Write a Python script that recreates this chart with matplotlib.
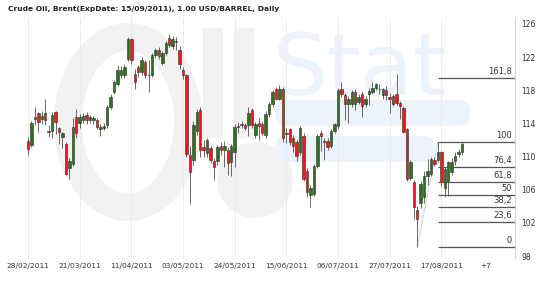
import matplotlib
matplotlib.use("Agg")
import matplotlib.pyplot as plt
from matplotlib.patches import Ellipse, Rectangle, Circle, FancyBboxPatch

# daily candles, 28/02/2011 .. 24/08/2011
opens = [111.9, 111.4, 114.5, 115.2, 114.5, 115.3, 113.1, 113.05, 115.35, 113.4,
         112.4, 111.5, 108.6, 109.1, 114.8, 114.1, 114.4, 115.0, 114.4, 114.4,
         114.4, 113.3, 113.4, 113.8, 116.0, 117.8, 118.8, 119.9, 119.8, 121.8,
         124.2, 120.0, 120.8, 120.2, 121.4, 119.9, 119.9, 122.3, 122.9, 121.3,
         122.5, 124.3, 123.4, 124.0, 122.9, 120.5, 119.8, 110.2, 109.6, 113.1,
         115.6, 111.1, 110.4, 111.0, 109.5, 109.5, 111.3, 110.8, 110.8, 109.4,
         110.6, 113.7, 113.9, 113.8, 113.8, 115.6, 112.6, 114.0, 113.9, 112.6,
         115.1, 116.4, 118.1, 117.0, 118.2, 112.9, 113.3, 112.3, 111.7, 110.5,
         112.5, 108.3, 105.4, 105.5, 108.9, 112.9, 111.9, 111.9, 111.3, 113.1,
         113.7, 118.1, 117.4, 116.4, 116.4, 117.8, 116.6, 117.5, 116.3, 117.6,
         117.8, 118.3, 118.2, 117.4, 118.0, 117.2, 117.3, 117.5, 116.5, 115.9,
         113.3, 107.4, 106.9, 103.5, 104.4, 105.1, 107.7, 107.9, 109.6, 109.6,
         110.5, 106.2, 106.9, 108.1, 109.5, 110.3, 110.5]
highs = [112.4, 114.3, 116.0, 115.4, 115.5, 116.9, 113.8, 115.4, 115.5, 113.6,
         113.0, 111.8, 109.8, 114.7, 115.8, 115.1, 115.2, 115.4, 115.0, 114.9,
         114.6, 113.9, 114.0, 116.2, 117.5, 119.3, 121.1, 120.9, 121.2, 124.4,
         124.3, 120.6, 121.0, 122.0, 121.6, 121.6, 122.5, 123.1, 123.2, 122.8,
         124.0, 124.8, 124.6, 124.4, 123.3, 120.8, 120.0, 111.3, 114.3, 115.8,
         116.0, 112.0, 112.3, 111.3, 109.8, 111.4, 111.7, 111.9, 111.2, 111.5,
         113.9, 114.2, 114.3, 114.0, 116.0, 115.9, 114.2, 114.6, 114.2, 115.5,
         116.6, 118.0, 118.4, 118.6, 118.4, 113.4, 113.5, 112.6, 112.0, 113.7,
         112.8, 108.6, 106.6, 109.1, 112.7, 113.2, 112.3, 112.2, 113.3, 114.1,
         118.3, 119.0, 117.7, 117.3, 118.0, 118.1, 117.5, 117.8, 117.3, 118.3,
         119.0, 118.9, 118.8, 118.3, 118.5, 117.7, 117.6, 120.0, 116.7, 116.1,
         113.5, 109.6, 107.2, 104.0, 107.0, 108.2, 109.7, 110.0, 109.9, 111.7,
         110.7, 108.7, 109.5, 109.8, 110.5, 110.9, 111.7]
lows = [110.2, 111.2, 113.8, 113.0, 113.9, 113.8, 112.4, 112.3, 112.7, 111.5,
        111.0, 107.8, 107.3, 108.9, 112.2, 113.5, 114.0, 113.9, 114.0, 113.9,
        113.3, 112.5, 113.2, 113.5, 115.8, 117.5, 118.5, 119.5, 119.5, 121.5,
        121.2, 118.1, 119.6, 119.9, 119.5, 117.8, 119.6, 121.9, 121.8, 121.0,
        122.3, 123.2, 123.0, 122.9, 120.6, 119.4, 110.0, 104.3, 109.0, 112.6,
        110.0, 109.9, 109.9, 109.2, 107.2, 109.0, 110.2, 108.7, 107.8, 107.7,
        108.8, 112.8, 113.5, 113.2, 112.5, 113.5, 112.2, 112.0, 112.6, 112.3,
        114.8, 116.0, 116.8, 116.8, 111.8, 111.6, 111.4, 110.6, 109.5, 110.2,
        107.0, 105.1, 103.9, 105.2, 108.6, 110.7, 109.6, 110.8, 111.0, 112.8,
        113.3, 117.2, 114.4, 114.1, 116.0, 115.6, 116.3, 114.8, 116.0, 116.2,
        117.5, 118.0, 117.5, 117.0, 116.8, 115.3, 116.1, 116.2, 114.5, 112.8,
        107.0, 107.2, 102.5, 99.1, 103.8, 104.4, 106.6, 107.6, 108.9, 109.3,
        106.5, 105.1, 105.2, 107.8, 109.0, 109.9, 110.2]
closes = [110.9, 114.1, 114.8, 114.2, 114.85, 114.4, 113.0, 115.0, 114.2, 113.0,
          112.9, 107.9, 109.5, 113.6, 112.8, 114.8, 114.9, 114.4, 114.8, 114.7,
          113.6, 113.6, 113.7, 116.0, 117.2, 119.0, 120.4, 120.45, 120.8, 124.2,
          121.6, 119.0, 120.2, 121.7, 119.9, 119.8, 122.3, 122.9, 122.1, 122.5,
          123.7, 123.5, 124.2, 123.8, 121.2, 119.8, 110.3, 108.1, 113.8, 115.4,
          110.8, 110.8, 112.0, 109.6, 108.7, 111.1, 110.8, 111.3, 109.2, 111.3,
          113.6, 113.6, 113.8, 113.4, 115.3, 113.8, 113.9, 113.7, 112.9, 115.1,
          116.3, 117.8, 117.0, 118.2, 112.3, 112.7, 111.8, 111.3, 110.1, 113.5,
          107.3, 105.7, 106.2, 108.9, 112.5, 112.5, 111.8, 111.1, 113.1, 113.9,
          118.0, 117.6, 116.4, 116.9, 117.8, 116.4, 117.2, 116.1, 117.0, 117.9,
          118.3, 118.7, 118.1, 118.1, 117.4, 116.9, 116.4, 116.5, 116.1, 113.0,
          107.3, 109.3, 103.9, 102.5, 106.7, 107.7, 108.3, 109.7, 109.1, 110.5,
          106.9, 108.5, 109.3, 109.3, 110.1, 110.5, 111.5]

date_labels = ["28/02/2011", "21/03/2011", "11/04/2011", "03/05/2011", "24/05/2011",
               "15/06/2011", "06/07/2011", "27/07/2011", "17/08/2011"]
label_every = 15
future_label = "+7"

fib_names = ["0", "23,6", "38,2", "50", "61,8", "76,4", "100", "161,8"]
fib_prices = [99.1, 102.1, 103.9, 105.4, 106.9, 108.7, 111.7, 119.5]
fib_low_idx, fib_high_idx = 113, 119

n = len(closes)
x = list(range(n))

fig = plt.figure(figsize=(5.5, 2.84), dpi=100)

# faint logo watermark in pixel coordinates
bg = fig.add_axes([0, 0, 1, 1], zorder=0)
bg.set_xlim(0, 550)
bg.set_ylim(284, 0)
bg.axis("off")
gray_wm = "#f2f2f2"
blue_wm = "#edf3fa"
bg.add_patch(Ellipse((128, 122), 120, 170, fill=False, lw=20, ec=gray_wm))
bg.add_patch(Rectangle((203, 28), 20, 110, color=gray_wm, lw=0))
bg.add_patch(Rectangle((234, 28), 20, 110, color=gray_wm, lw=0))
bg.add_patch(Circle((255, 180), 38, color=gray_wm, lw=0))
bg.text(272, 95, "Stat", fontsize=62, color=blue_wm, ha="left", va="baseline")
bg.add_patch(FancyBboxPatch((275, 100), 195, 26, boxstyle="round,pad=0,rounding_size=12",
                            color=blue_wm, lw=0))
bg.add_patch(FancyBboxPatch((275, 136), 160, 26, boxstyle="round,pad=0,rounding_size=12",
                            color=blue_wm, lw=0))

ax = fig.add_axes([4 / 550, 1 - 258 / 284, 511 / 550, 240 / 284], zorder=1)
ax.patch.set_alpha(0)

step = (462 - 28) / (n - 1)
ax.set_xlim(-24 / step, (515 - 28) / step)
ax.set_ylim(98 - 2 / 8.286, 126 + 6 / 8.286)

# grid at date labels
tick_pos = [i * label_every for i in range(len(date_labels))]
for t in tick_pos:
    ax.axvline(t, color="#ebebeb", lw=0.7, zorder=1)

# candles
ax.vlines(x, lows, highs, color="#505050", lw=0.6, zorder=2)
bottoms = [min(o, c) for o, c in zip(opens, closes)]
heights = [max(abs(c - o), 0.06) for o, c in zip(opens, closes)]
colors = ["#2b741c" if c >= o else "#ff1414" for o, c in zip(opens, closes)]
ax.bar(x, heights, bottom=bottoms, width=0.72, color=colors,
       edgecolor="#2a2a2a", linewidth=0.4, zorder=3)

# fibonacci retracement
right = ax.get_xlim()[1]
ax.plot([fib_low_idx, fib_high_idx], [lows[fib_low_idx], highs[fib_high_idx]],
        color="#d0d0d0", lw=0.7, zorder=1)
ax.hlines(fib_prices, fib_high_idx, right, color="#555555", lw=0.9, zorder=4)
for name, p in zip(fib_names, fib_prices):
    ax.annotate(name, (right, p), xytext=(-2, 1.5), textcoords="offset points",
                ha="right", va="bottom", fontsize=6, color="#333333")

ax.set_xticks(tick_pos + [n - 1 + 7])
ax.set_xticklabels(date_labels + [future_label], fontsize=5.3, color="#333333")
ax.set_yticks(range(98, 127, 4))
ax.yaxis.tick_right()
ax.tick_params(axis="y", length=0, pad=4.5, labelsize=5.5, labelcolor="#333333")
ax.tick_params(axis="x", length=0, pad=3.5)

for s in ["top", "left", "bottom"]:
    ax.spines[s].set_visible(False)
ax.spines["right"].set_color("#cfd8e0")
ax.spines["right"].set_linewidth(0.8)

fig.text(8 / 550, 1 - 9 / 284, "Crude Oil, Brent(ExpDate: 15/09/2011), 1.00 USD/BARREL, Daily",
         fontsize=5.4, fontweight="bold", color="#222222", ha="left", va="center")

fig.savefig("out.png", dpi=100)
